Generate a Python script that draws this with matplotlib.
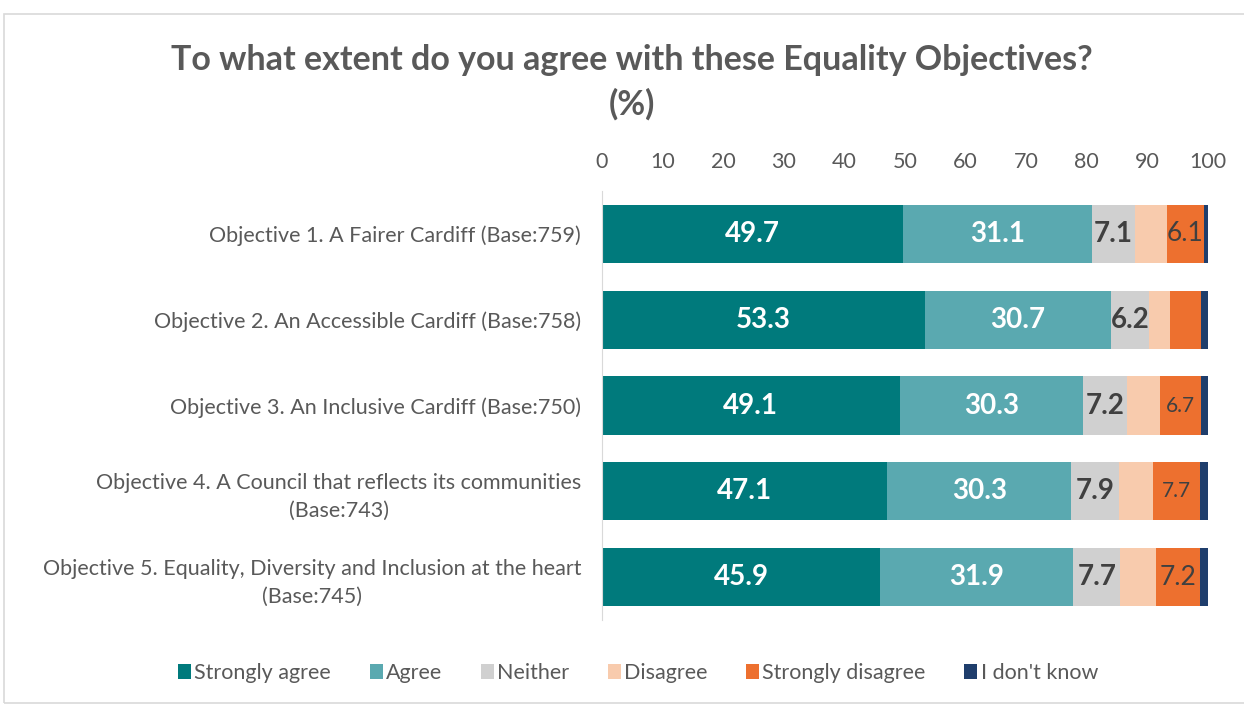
import matplotlib
matplotlib.use("Agg")
import matplotlib.pyplot as plt
from matplotlib.patches import Rectangle

categories = [
    "Objective 1. A Fairer Cardiff (Base:759)",
    "Objective 2. An Accessible Cardiff (Base:758)",
    "Objective 3. An Inclusive Cardiff (Base:750)",
    "Objective 4. A Council that reflects its communities\n(Base:743)",
    "Objective 5. Equality, Diversity and Inclusion at the heart\n(Base:745)",
]
strongly_agree = [49.7, 53.3, 49.1, 47.1, 45.9]
agree = [31.1, 30.7, 30.3, 30.3, 31.9]
neither = [7.1, 6.2, 7.2, 7.9, 7.7]
disagree = [5.3, 3.5, 5.5, 5.6, 5.9]
strongly_disagree = [6.1, 5.1, 6.7, 7.7, 7.2]
dont_know = [0.7, 1.2, 1.2, 1.4, 1.4]
series_names = ["Strongly agree", "Agree", "Neither", "Disagree", "Strongly disagree", "I don't know"]
ticks = [0, 10, 20, 30, 40, 50, 60, 70, 80, 90, 100]

colors = ["#007A7C", "#5AA9B0", "#D0D0D0", "#F8CBAD", "#ED702F", "#1F3E6C"]
series = [strongly_agree, agree, neither, disagree, strongly_disagree, dont_know]

plt.rcParams['font.family'] = ['Lato', 'DejaVu Sans']
fig = plt.figure(figsize=(12.44, 7.04), dpi=100)
fig.patches.append(Rectangle((4/1244, 0.002), 1.2, 1 - 14/704 - 0.002, transform=fig.transFigure,
                             fill=False, edgecolor="#D9D9D9", linewidth=1.2))
ax = fig.add_axes([602/1244, 1 - 620/704, 606/1244, 429/704])

ys = list(range(len(categories)))
left = [0.0] * len(categories)
bars = []
for name, vals, c in zip(series_names, series, colors):
    b = ax.barh(ys, vals, left=left, height=0.68, color=c, label=name, edgecolor="none")
    bars.append(b)
    left = [l + v for l, v in zip(left, vals)]

# labels
label_style = {
    0: dict(color="white", fontweight="bold", fontsize=20),
    1: dict(color="white", fontweight="bold", fontsize=20),
    2: dict(color="#404040", fontweight="bold", fontsize=20),
}
for si in (0, 1, 2):
    for i, r in enumerate(bars[si]):
        ax.text(r.get_x() + r.get_width() / 2, r.get_y() + r.get_height() / 2,
                f"{series[si][i]:.1f}", ha="center", va="center", **label_style[si])
sd_sizes = {0: 19, 2: 15, 3: 15, 4: 19}
for i, r in enumerate(bars[4]):
    if i in sd_sizes:
        ax.text(r.get_x() + r.get_width() / 2, r.get_y() + r.get_height() / 2,
                f"{strongly_disagree[i]:.1f}", ha="center", va="center",
                color="#404040", fontsize=sd_sizes[i])

ax.set_xlim(0, 100)
ax.set_ylim(len(categories) - 0.5, -0.5)
ax.set_xticks(ticks)
ax.xaxis.tick_top()
ax.tick_params(axis="x", length=0, labelsize=15.5, labelcolor="#595959", pad=14)
ax.set_yticks(ys)
ax.set_yticklabels(categories, fontsize=15.5, color="#595959", ha="right",
                   multialignment="center", linespacing=1.5)
ax.tick_params(axis="y", length=0, pad=15)
for s in ("top", "right", "bottom"):
    ax.spines[s].set_visible(False)
ax.spines["left"].set_color("#D9D9D9")

fig.text(632/1244, 1 - 60/704, "To what extent do you agree with these Equality Objectives?",
         ha="center", va="center", fontsize=24.5, fontweight="bold", color="#595959")
fig.text(632/1244, 1 - 104/704, "(%)", ha="center", va="center", fontsize=24.5,
         fontweight="bold", color="#595959")

fig.legend(loc="center", bbox_to_anchor=(638/1244, 1 - 673/704), ncol=6, frameon=False,
           fontsize=15.5, labelcolor="#595959", handlelength=0.6, handleheight=0.7,
           handletextpad=0.15, columnspacing=1.8)

fig.savefig("out.png", dpi=100)
